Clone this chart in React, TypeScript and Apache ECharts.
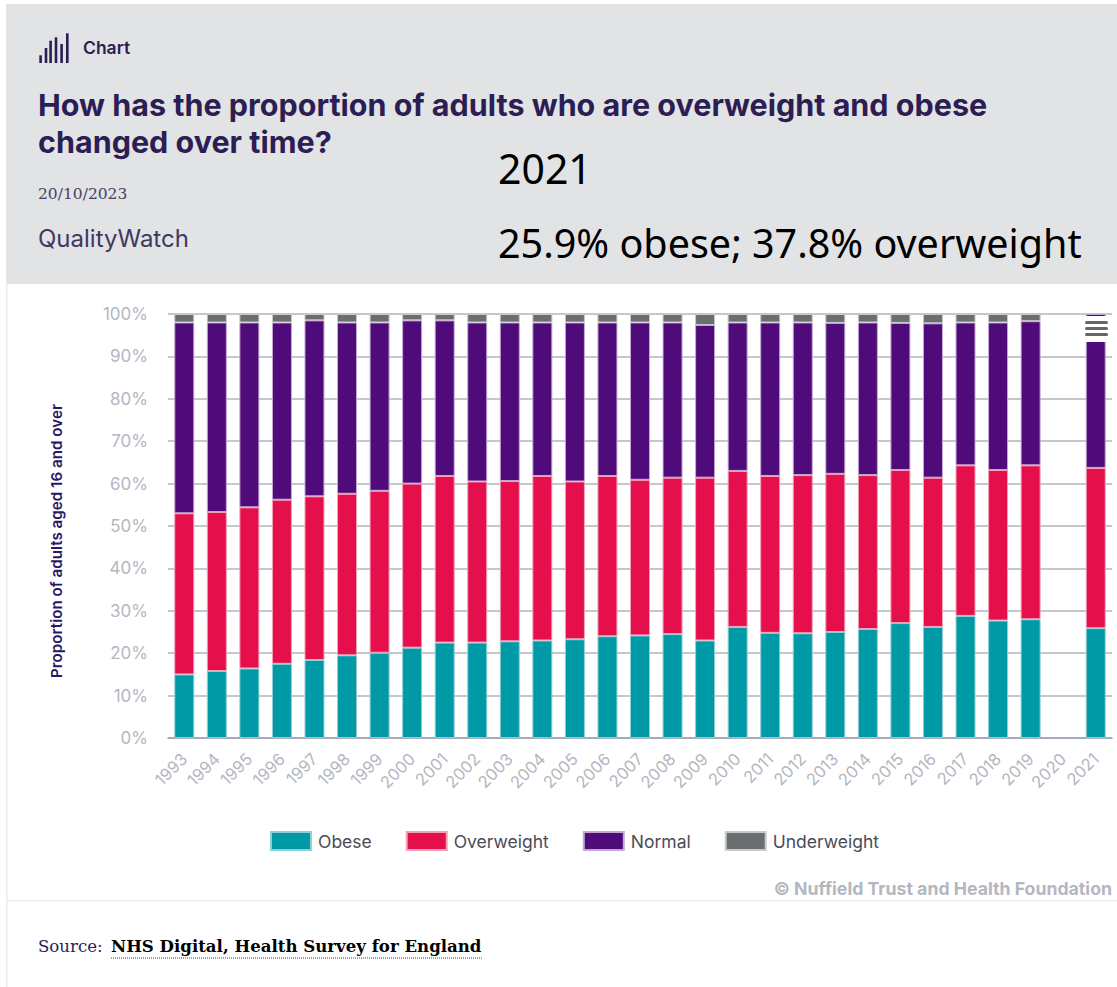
import React, { useEffect, useRef } from "react";
import * as echarts from "echarts";

const years = ["1993","1994","1995","1996","1997","1998","1999","2000","2001","2002","2003","2004","2005","2006","2007","2008","2009","2010","2011","2012","2013","2014","2015","2016","2017","2018","2019","2020","2021"];
const obese = [15.0,15.8,16.4,17.5,18.4,19.5,20.1,21.3,22.5,22.5,22.8,23.0,23.3,24.0,24.2,24.5,23.0,26.2,24.8,24.7,25.0,25.7,27.1,26.2,28.8,27.7,28.0,null,25.9];
const overweight = [38.0,37.5,38.0,38.7,38.6,38.1,38.2,38.7,39.3,38.0,37.8,38.8,37.2,37.8,36.7,36.9,38.4,36.8,37.0,37.3,37.3,36.3,36.1,35.2,35.5,35.5,36.3,null,37.8];
const normal = [45.0,44.7,43.6,41.8,41.5,40.4,39.7,38.5,36.7,37.5,37.4,36.2,37.5,36.2,37.1,36.6,36.0,35.0,36.2,36.0,35.6,36.0,34.7,36.4,33.7,34.8,34.0,null,36.3];
const underweight = [2.0,2.0,2.0,2.0,1.5,2.0,2.0,1.5,1.5,2.0,2.0,2.0,2.0,2.0,2.0,2.0,2.6,2.0,2.0,2.0,2.1,2.0,2.1,2.2,2.0,2.0,1.7,null,null];

const INK = "#2c1e54";
const MUTED = "#b4b7c0";
const SANS = "Inter, Lato, sans-serif";
const SERIF = "'DejaVu Serif', serif";
const OVERLAY = "'Noto Sans', sans-serif";

const barStyle = (name: string, data: (number | null)[], color: string, edge: string) => ({
  name,
  type: "bar" as const,
  stack: "share",
  data,
  barWidth: 20,
  itemStyle: { color, borderColor: edge, borderWidth: 1 },
});

export default function App() {
  const ref = useRef<HTMLDivElement>(null);
  useEffect(() => {
    document.body.style.margin = "0";
    const chart = echarts.init(ref.current!, undefined, { renderer: "svg" });
    chart.setOption({
      animation: false,
      backgroundColor: "#ffffff",
      title: {
        text: "How has the proportion of adults who are overweight and obese\nchanged over time?",
        left: 38,
        top: 86,
        padding: 0,
        textStyle: { fontFamily: SANS, fontSize: 30.5, fontWeight: 700, color: INK, lineHeight: 37 },
      },
      grid: { left: 168, right: 5, top: 314, bottom: 249 },
      legend: {
        left: 270,
        top: 831,
        padding: 0,
        icon: "rect",
        itemWidth: 40,
        itemHeight: 18,
        itemGap: 34,
        textStyle: { fontFamily: SANS, fontSize: 17.5, color: "#4b4b57", padding: [0, 0, 0, 2] },
        data: ["Obese", "Overweight", "Normal", "Underweight"],
      },
      xAxis: {
        type: "category",
        data: years,
        axisLine: { lineStyle: { color: "#9da1b1", width: 1.5 } },
        axisTick: { show: false },
        axisLabel: { rotate: 45, interval: 0, margin: 18, fontFamily: SANS, fontSize: 16.5, color: MUTED },
      },
      yAxis: {
        type: "value",
        min: 0,
        max: 100,
        interval: 10,
        name: "Proportion of adults aged 16 and over",
        nameLocation: "middle",
        nameGap: 104,
        nameTextStyle: { fontFamily: SANS, fontSize: 15.2, fontWeight: 600, color: "#2c1666", padding: [0, 30, 0, 0] },
        axisLine: { show: false },
        axisTick: { show: false },
        axisLabel: { margin: 20, padding: [2, 0, 0, 0], fontFamily: SANS, fontSize: 17, color: MUTED, formatter: "{value}%" },
        splitLine: { lineStyle: { color: "#b2b5bf", width: 1.5 } },
      },
      series: [
        barStyle("Obese", obese, "#009aa6", "#8fd0d6"),
        barStyle("Overweight", overweight, "#e40f4b", "#f5a0b8"),
        barStyle("Normal", normal, "#4e0b79", "#c4a8d4"),
        barStyle("Underweight", underweight, "#6b6e70", "#c9cacb"),
      ],
      graphic: [
        { type: "rect", z: -1, shape: { x: 6, y: 284, width: 1.5, height: 703 }, style: { fill: "#ececec" } },
        { type: "rect", z: -1, shape: { x: 6, y: 4, width: 1111, height: 280 }, style: { fill: "#e1e3e5" } },
        // chart mark beside the kicker
        ...[[39.3, 55.3], [44.7, 48], [49.3, 40.7], [54.7, 37.3], [60.3, 44], [66, 33.3]].map(([x, y]) => ({
          type: "rect", shape: { x, y, width: 2.6, height: 63 - y }, style: { fill: INK },
        })),
        { type: "text", x: 83, y: 47, style: { text: "Chart", font: `600 17.5px ${SANS}`, fill: INK, textVerticalAlign: "middle" } },
        { type: "text", x: 38, y: 194, style: { text: "20/10/2023", font: `15.5px ${SERIF}`, fill: "#4a3f63", textVerticalAlign: "middle" } },
        { type: "text", x: 38, y: 238, style: { text: "QualityWatch", font: `400 24px ${SANS}`, fill: "#42375f", textVerticalAlign: "middle" } },
        { type: "text", x: 498, y: 168, style: { text: "2021", font: `41px ${OVERLAY}`, fill: "#000000", textVerticalAlign: "middle" } },
        { type: "text", x: 498, y: 243, style: { text: "25.9% obese; 37.8% overweight", font: `39.5px ${OVERLAY}`, fill: "#000000", textVerticalAlign: "middle" } },
        // export button sitting over the last column
        { type: "rect", z: 10, shape: { x: 1084, y: 316, width: 25, height: 26 }, style: { fill: "#ffffff" } },
        ...[321, 327, 333].map((y) => ({
          type: "rect", z: 11, shape: { x: 1085, y, width: 23, height: 3, r: 1.5 }, style: { fill: "#666666" },
        })),
        { type: "text", x: 1112, y: 888, style: { text: "© Nuffield Trust and Health Foundation", font: `700 17.7px ${SANS}`, fill: MUTED, textAlign: "right", textVerticalAlign: "middle" } },
        { type: "rect", shape: { x: 6, y: 900, width: 1111, height: 1.5 }, style: { fill: "#ececec" } },
        { type: "text", x: 38, y: 946, style: { text: "Source:", font: `16.6px ${SERIF}`, fill: "#2c1e54", textVerticalAlign: "middle" } },
        { type: "text", x: 111, y: 946, style: { text: "NHS Digital, Health Survey for England", font: `700 16.6px ${SERIF}`, fill: "#000000", textVerticalAlign: "middle" } },
        { type: "line", shape: { x1: 111, y1: 958, x2: 483, y2: 958 }, style: { stroke: "#444444", lineWidth: 1, lineDash: [1, 1] } },
      ],
    });
    return () => chart.dispose();
  }, []);
  return <div ref={ref} style={{ position: "absolute", left: 0, top: 0, width: 1117, height: 987 }} />;
}
